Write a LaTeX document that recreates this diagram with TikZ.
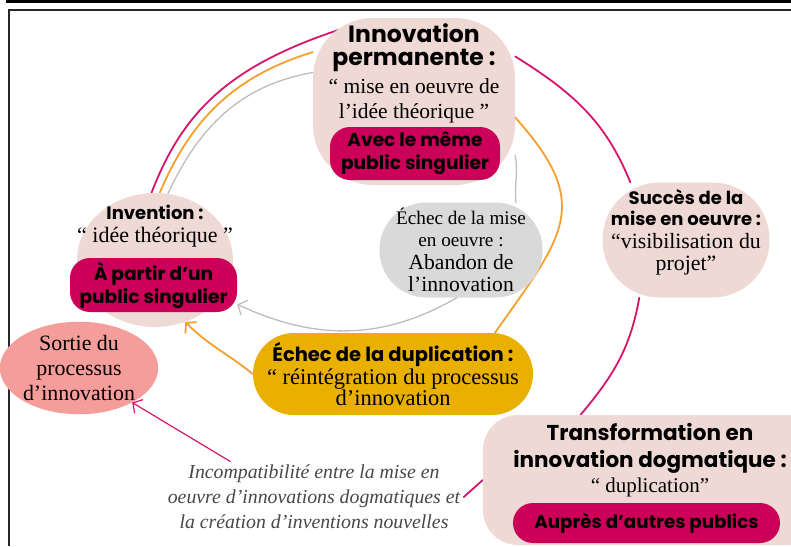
\documentclass[tikz,border=0pt]{standalone}
\usepackage{fontspec}
\setmainfont{Liberation Serif}
\setsansfont{Poppins}
\usetikzlibrary{shapes.geometric, arrows.meta, backgrounds}

\definecolor{rosepale}{HTML}{EFD9D5}
\definecolor{framboise}{HTML}{CC0058}
\definecolor{fuchsia}{HTML}{D6156A}
\definecolor{orangeclair}{HTML}{F5A02E}
\definecolor{grisclair}{HTML}{BDBDBD}
\definecolor{grisfond}{HTML}{D9D9D9}
\definecolor{moutarde}{HTML}{E9B000}
\definecolor{saumon}{HTML}{F59D9A}
\definecolor{encre}{HTML}{474747}

\begin{document}
\begin{tikzpicture}[x=1pt, y=-1pt,
    >={Straight Barb[length=7pt, width=16pt]},
    bulle/.style={fill=rosepale, inner sep=0pt},
    public/.style={fill=framboise, rounded corners=20pt, inner sep=0pt, align=center,
        font=\sffamily\bfseries\fontsize{18.6}{23}\selectfont},
    titre/.style={anchor=base, align=center, inner sep=0pt},
    citation/.style={anchor=base, align=center, inner sep=0pt},
    lien/.style={line width=1.8pt, line cap=round}]

    \useasboundingbox (0,0) rectangle (791,546);
    \clip (0,0) rectangle (791,546);

    % Cadre de la page
    \fill (6,0) rectangle (791,3);
    \draw[line width=2pt, black!85] (9,546) -- (9,10) -- (791,10);

    % Innovation permanente
    \node[bulle, rounded corners=60pt, minimum width=202pt, minimum height=167pt] (perm) at (414,101.5) {};
    \node[titre, font=\sffamily\bfseries\fontsize{23.5}{23.5}\selectfont] (permTitre) at (414,65.5) {Innovation\\permanente :};
    \node[citation, font=\fontsize{21.5}{25}\selectfont] (permCitation) at (414,118) {“ mise en oeuvre de\\l’idée théorique ”};
    \node[public, minimum width=170pt, minimum height=53pt] (pub0) at (415,153.5) {Avec le même\\public singulier};

    % Invention
    \node[bulle, ellipse, minimum width=156pt, minimum height=134pt] (inv) at (155,260) {};
    \node[titre, font=\sffamily\bfseries\fontsize{18}{20}\selectfont] (invTitre) at (155,219) {Invention :};
    \node[citation, font=\fontsize{22}{22}\selectfont] (invCitation) at (155,242) {“ idée théorique ”};
    \node[public, minimum width=167pt, minimum height=54pt] (pub1) at (153.5,285) {À partir d’un\\public singulier};

    % Echec de la mise en oeuvre
    \node[fill=grisfond, rounded corners=47pt, minimum width=163pt, minimum height=95pt, inner sep=0pt,
        align=center, font=\fontsize{19.2}{22.5}\selectfont] (mise) at (461,250)
        {Échec de la mise\\en oeuvre :\\{\fontsize{21.6}{22.5}\selectfont Abandon de}\\{\fontsize{21.6}{22.5}\selectfont l’innovation}};

    % Succes de la mise en oeuvre
    \node[bulle, rounded corners=57pt, minimum width=167pt, minimum height=115pt] (succ) at (686,240) {};
    \node[citation, font=\fontsize{21.8}{21.5}\selectfont] (succTexte) at (686,270)
        {{\sffamily\bfseries\fontsize{18}{22}\selectfont Succès de la}\\{\sffamily\bfseries\fontsize{18}{22}\selectfont mise en oeuvre :}\\[1.5pt]“visibilisation du\\projet”};

    % Sortie du processus
    \node[fill=saumon, ellipse, minimum width=138pt, minimum height=90pt, inner sep=0pt,
        align=center, font=\fontsize{21.9}{25}\selectfont] (sortie) at (79,368) {Sortie du\\processus\\d’innovation};

    % Echec de la duplication
    \node[fill=moutarde, rounded corners=41pt, minimum width=280pt, minimum height=82pt, inner sep=0pt,
        align=center, font=\fontsize{22.5}{19.5}\selectfont] (dup) at (393,374)
        {{\sffamily\bfseries\fontsize{19.5}{20}\selectfont Échec de la duplication :}\\[1pt]“ réintégration du processus\\d’innovation};

    % Transformation en innovation dogmatique
    \node[bulle, rounded corners=35pt, minimum width=340pt, minimum height=130pt] (trans) at (653,480) {};
    \node[titre, font=\sffamily\bfseries\fontsize{21.5}{27}\selectfont] (transTitre) at (650,467) {Transformation en\\innovation dogmatique :};
    \node[citation, font=\fontsize{21}{20}\selectfont] (transCitation) at (650,492) {“ duplication”};
    \node[public, minimum width=267pt, minimum height=40pt, font=\sffamily\bfseries\fontsize{18.3}{23}\selectfont] (pub2) at (646.5,523) {Auprès d’autres publics};

    % Remarque
    \node[align=center, text=encre, font=\itshape\fontsize{19.8}{25}\selectfont] (note) at (314,497)
        {Incompatibilité entre la mise en\\oeuvre d’innovations dogmatiques et\\la création d’inventions nouvelles};

    \begin{pgfonlayer}{background}
        % Parcours du succes
        \draw[lien, fuchsia, shorten >=-32pt] (inv.93) to[out=69, in=198] (perm.148);
        \draw[lien, fuchsia] (perm.24) to[out=-32, in=112] (succ.134);
        \draw[lien, fuchsia] (succ.231) to[out=-100, in=50] (trans.138);
        \draw[lien, fuchsia] (trans.west) -- (note.east);
        \draw[lien, fuchsia, line width=1.2pt, ->] (note.157) -- (sortie.-33);
        % Echec de la duplication
        \draw[lien, orangeclair] (inv.86) to[out=67, in=197] (perm.154);
        \draw[lien, orangeclair, looseness=1.4] (perm.-9) to[out=-48, in=55] (dup.22);
        \draw[lien, orangeclair, ->] (dup.west) to[out=141, in=-45] (inv.-64);
        % Echec de la mise en oeuvre
        \draw[lien, grisclair, line width=1.3pt] (inv.79) to[out=65, in=190] (perm.164);
        \draw[lien, grisclair, line width=1.3pt] (perm.-28) to[out=-80, in=95] (mise.41);
        \draw[lien, grisclair, line width=1.3pt, ->] (mise.-95) to[out=-150, in=-25] (pub1.-13);
    \end{pgfonlayer}

\end{tikzpicture}
\end{document}
